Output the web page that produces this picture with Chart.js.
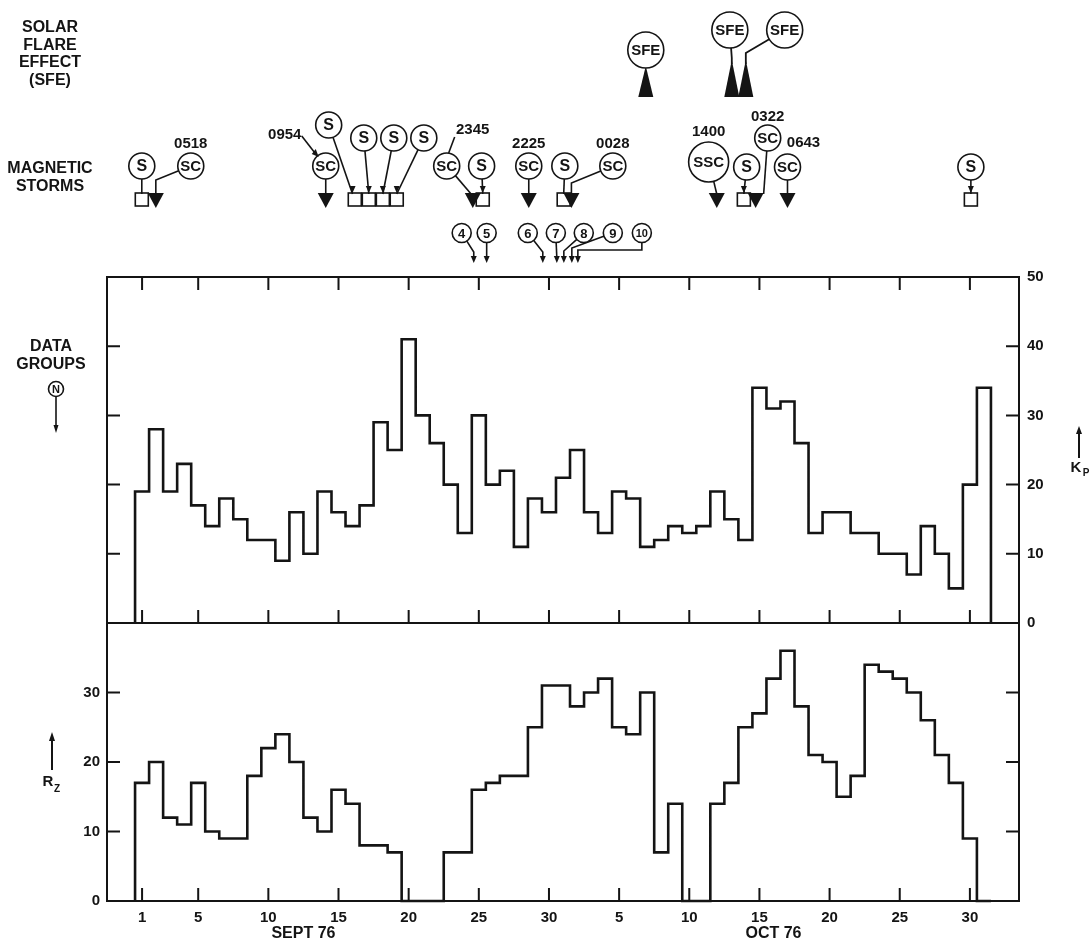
<!DOCTYPE html>
<html>
<head>
<meta charset="utf-8">
<title>Kp and Rz, Sept - Oct 76</title>
<script src="https://cdn.jsdelivr.net/npm/chart.js@4.4.1/dist/chart.umd.min.js"></script>
<style>
html, body { margin: 0; padding: 0; background: #fff; }
canvas { display: block; }
</style>
</head>
<body>
<canvas id="chart" width="1091" height="951"></canvas>
<script>
// day index: 1 = 1 Sept 76 ... 61 = 31 Oct 76
var DAYS = [];
for (var d = 1; d <= 61; d++) DAYS.push(d);

// daily sum Kp (top panel, right axis)
var KP = [19, 28, 19, 23, 17, 14, 18, 15, 12, 12, 9, 16, 10, 19, 16, 14, 17, 29, 25, 41,
          30, 26, 20, 13, 30, 20, 22, 11, 18, 16,
          21, 25, 16, 13, 19, 18, 11, 12, 14, 13, 14, 19, 15, 12, 34, 31, 32, 26, 13, 16,
          16, 13, 13, 10, 10, 7, 14, 10, 5, 20, 34];

// daily sunspot number Rz (bottom panel)
var RZ = [17, 20, 12, 11, 17, 10, 9, 9, 18, 22, 24, 20, 12, 10, 16, 14, 8, 8, 7, 0,
          0, 0, 7, 7, 16, 17, 18, 18, 25, 31,
          31, 28, 30, 32, 25, 24, 30, 7, 14, 0, 0, 14, 17, 25, 27, 32, 36, 28, 21, 20,
          15, 18, 34, 33, 32, 30, 26, 21, 17, 9, 0];

var X_TICK_DAYS = [1, 5, 10, 15, 20, 25, 30, 35, 40, 45, 50, 55, 60];
var X_TICK_LABELS = ["1", "5", "10", "15", "20", "25", "30", "5", "10", "15", "20", "25", "30"];
var KP_TICKS = [0, 10, 20, 30, 40, 50];
var RZ_TICKS = [0, 10, 20, 30];
var MONTH_LABELS = ["SEPT 76", "OCT 76"];
var MONTH_DAYS = [12.5, 46];

// magnetic storms: symbol, UT time, day of the symbol, day of its mark, mark kind
var STORM_LABELS = ["S", "SC", "SC", "S", "S", "S", "S", "SC", "S", "SC", "S", "SC", "SSC", "S", "SC", "SC", "S"];
var STORM_TIMES = ["", "0518", "0954", "", "", "", "", "2345", "", "2225", "", "0028", "1400", "", "0322", "0643", ""];
var STORM_DAYS = [0.98, 4.47, 14.09, 14.3, 16.8, 18.94, 21.08, 22.71, 25.2, 28.56, 31.13, 34.55, 41.38, 44.09, 45.59, 47.0, 60.07];
var STORM_MARK_DAYS = [0.98, 1.98, 14.09, 16.16, 17.16, 18.16, 19.15, 24.57, 25.28, 28.56, 31.05, 31.6, 41.96, 43.89, 44.73, 47.0, 60.07];
var STORM_HIT_DAYS = [0.98, 1.98, 14.09, 16.0, 17.16, 18.16, 19.15, 24.45, 25.28, 28.56, 31.05, 31.6, 41.96, 43.89, 45.3, 47.0, 60.07];
var STORM_KIND = ["sq", "tri", "tri", "sq", "sq", "sq", "sq", "tri", "sq", "tri", "sq", "tri", "tri", "sq", "tri", "tri", "sq"];

// solar flare effects
var SFE_DAYS = [36.9, 42.89, 46.8];
var SFE_MARK_DAYS = [36.9, 43.03, 44.03];

// data groups
var GROUP_LABELS = ["4", "5", "6", "7", "8", "9", "10"];
var GROUP_DAYS = [23.78, 25.56, 28.49, 30.49, 32.48, 34.55, 36.62];
var GROUP_MARK_DAYS = [24.64, 25.56, 29.56, 30.56, 31.06, 31.63, 32.06];

var INK = "#141414";
var FONT = '"Liberation Sans", Arial, sans-serif';

// the two panels share one chart area: Kp 0..50 on top, Rz 0..40 below
var KP_MAX = 50, RZ_MAX = 40, TOP_SHARE = 346 / 624;
var KP_MIN = -KP_MAX * (1 - TOP_SHARE) / TOP_SHARE;
var RZ_TOP = RZ_MAX / (1 - TOP_SHARE);

function steps(vals) {
  var pts = [{ x: DAYS[0] - 0.5, y: 0 }];
  for (var i = 0; i < vals.length; i++) pts.push({ x: DAYS[i] - 0.5, y: vals[i] });
  var end = DAYS[DAYS.length - 1] + 0.5;
  pts.push({ x: end, y: vals[vals.length - 1] });
  pts.push({ x: end, y: 0 });
  return pts;
}

function font(size) { return "bold " + size + "px " + FONT; }

function circleLabel(ctx, x, y, r, txt, size) {
  ctx.beginPath();
  ctx.arc(x, y, r, 0, Math.PI * 2);
  ctx.fillStyle = "#fff";
  ctx.fill();
  ctx.lineWidth = 1.6;
  ctx.strokeStyle = INK;
  ctx.stroke();
  ctx.fillStyle = INK;
  ctx.font = font(size);
  ctx.textAlign = "center";
  ctx.textBaseline = "middle";
  ctx.fillText(txt, x, y + 1);
}

function edge(cx, cy, r, tx, ty) {
  var dx = tx - cx, dy = ty - cy, L = Math.sqrt(dx * dx + dy * dy) || 1;
  return [cx + dx / L * r, cy + dy / L * r];
}

function poly(ctx, pts, lw) {
  ctx.beginPath();
  ctx.moveTo(pts[0][0], pts[0][1]);
  for (var i = 1; i < pts.length; i++) ctx.lineTo(pts[i][0], pts[i][1]);
  ctx.lineWidth = lw || 1.6;
  ctx.strokeStyle = INK;
  ctx.stroke();
}

function arrowDown(ctx, x, y, w, h) {
  ctx.beginPath();
  ctx.moveTo(x, y);
  ctx.lineTo(x - w / 2, y - h);
  ctx.lineTo(x + w / 2, y - h);
  ctx.closePath();
  ctx.fillStyle = INK;
  ctx.fill();
}

var frame = {
  id: "frame",
  beforeDraw: function (chart) {
    var ctx = chart.ctx;
    ctx.save();
    ctx.fillStyle = "#fff";
    ctx.fillRect(0, 0, chart.width, chart.height);
    ctx.restore();
  },
  afterDatasetsDraw: function (chart) {
    var ctx = chart.ctx, a = chart.chartArea;
    var sx = chart.scales.x, kp = chart.scales.kp, rz = chart.scales.rz;
    var mid = kp.getPixelForValue(0);
    var T = 13;
    ctx.save();
    ctx.strokeStyle = INK;
    ctx.lineWidth = 2;
    ctx.strokeRect(a.left, a.top, a.right - a.left, a.bottom - a.top);
    ctx.beginPath();
    ctx.moveTo(a.left, mid);
    ctx.lineTo(a.right, mid);
    ctx.stroke();
    ctx.beginPath();
    X_TICK_DAYS.forEach(function (d) {
      var x = sx.getPixelForValue(d);
      ctx.moveTo(x, a.top); ctx.lineTo(x, a.top + T);
      ctx.moveTo(x, mid); ctx.lineTo(x, mid - T);
      ctx.moveTo(x, a.bottom); ctx.lineTo(x, a.bottom - T);
    });
    KP_TICKS.forEach(function (v) {
      if (v <= 0 || v >= KP_MAX) return;
      var y = kp.getPixelForValue(v);
      ctx.moveTo(a.left, y); ctx.lineTo(a.left + T, y);
      ctx.moveTo(a.right, y); ctx.lineTo(a.right - T, y);
    });
    RZ_TICKS.forEach(function (v) {
      if (v <= 0) return;
      var y = rz.getPixelForValue(v);
      ctx.moveTo(a.left, y); ctx.lineTo(a.left + T, y);
      ctx.moveTo(a.right, y); ctx.lineTo(a.right - T, y);
    });
    ctx.stroke();
    ctx.restore();
  },
  afterDraw: function (chart) {
    var ctx = chart.ctx, sx = chart.scales.x;
    function X(d) { return sx.getPixelForValue(d); }
    ctx.save();
    ctx.fillStyle = INK;
    ctx.strokeStyle = INK;
    ctx.textAlign = "center";
    ctx.textBaseline = "middle";

    // month names under the day ticks
    ctx.font = font(16);
    MONTH_LABELS.forEach(function (t, i) { ctx.fillText(t, X(MONTH_DAYS[i]), 934); });

    // row titles
    ctx.font = font(16);
    ["SOLAR", "FLARE", "EFFECT", "(SFE)"].forEach(function (t, i) { ctx.fillText(t, 50, 28 + i * 17.5); });
    ["MAGNETIC", "STORMS"].forEach(function (t, i) { ctx.fillText(t, 50, 169 + i * 18); });
    ["DATA", "GROUPS"].forEach(function (t, i) { ctx.fillText(t, 51, 347 + i * 17.5); });
    circleLabel(ctx, 56, 389, 7.5, "N", 11);
    poly(ctx, [[56, 397], [56, 426]], 1.6);
    arrowDown(ctx, 56, 433, 5, 8);

    // Rz and Kp axis titles with arrows
    poly(ctx, [[52, 770], [52, 740]], 2);
    ctx.beginPath(); ctx.moveTo(52, 732); ctx.lineTo(49, 741); ctx.lineTo(55, 741); ctx.closePath(); ctx.fill();
    ctx.font = font(15);
    ctx.fillText("R", 48, 782);
    ctx.font = font(10);
    ctx.fillText("Z", 57, 789);
    poly(ctx, [[1079, 458], [1079, 433]], 2);
    ctx.beginPath(); ctx.moveTo(1079, 426); ctx.lineTo(1076, 434); ctx.lineTo(1082, 434); ctx.closePath(); ctx.fill();
    ctx.font = font(15);
    ctx.fillText("K", 1076, 468);
    ctx.font = font(10);
    ctx.fillText("P", 1086, 473);

    // magnetic storm marks
    var MARK_TOP = 193;
    var rows = [166, 166, 166, 125, 138, 138, 138, 166, 166, 166, 166, 166, 162, 167, 138, 167, 167];
    var radii = [13, 13, 13, 13, 13, 13, 13, 13, 13, 13, 13, 13, 20, 13, 13, 13, 13];
    var bends = { 1: 180, 11: 183 };
    var arrows = { 3: 1, 4: 1, 5: 1, 6: 1, 8: 1, 13: 1, 16: 1 };
    STORM_LABELS.forEach(function (t, i) {
      var cx = X(STORM_DAYS[i]), cy = rows[i], r = radii[i];
      var hx = X(STORM_HIT_DAYS[i]);
      var pts;
      if (bends[i]) {
        pts = [edge(cx, cy, r, hx, bends[i]), [hx, bends[i]], [hx, MARK_TOP + 1]];
      } else {
        pts = [edge(cx, cy, r, hx, MARK_TOP), [hx, MARK_TOP + 1]];
      }
      poly(ctx, pts, 1.6);
      if (arrows[i]) arrowDown(ctx, hx, MARK_TOP, 6, 7);
      var mx = X(STORM_MARK_DAYS[i]);
      if (STORM_KIND[i] === "sq") {
        ctx.lineWidth = 1.6;
        ctx.strokeRect(mx - 6.5, MARK_TOP, 13, 13);
      } else {
        ctx.beginPath();
        ctx.moveTo(mx - 8, MARK_TOP);
        ctx.lineTo(mx + 8, MARK_TOP);
        ctx.lineTo(mx, MARK_TOP + 15);
        ctx.closePath();
        ctx.fill();
      }
    });
    STORM_LABELS.forEach(function (t, i) {
      circleLabel(ctx, X(STORM_DAYS[i]), rows[i], radii[i], t, t === "S" ? 16 : 15);
    });
    // time labels
    var lab = { 1: [0, -22], 2: [-41, -31], 7: [26, -36], 9: [0, -22], 11: [0, -22], 12: [0, -30], 14: [0, -21], 15: [16, -24] };
    ctx.font = font(15);
    ctx.fillStyle = INK;
    ctx.textAlign = "center";
    ctx.textBaseline = "middle";
    STORM_TIMES.forEach(function (t, i) {
      if (!t) return;
      var cx = X(STORM_DAYS[i]), cy = rows[i];
      ctx.fillText(t, cx + lab[i][0], cy + lab[i][1]);
    });
    // leader lines from the 0954 and 2345 labels
    var c2 = X(STORM_DAYS[2]);
    poly(ctx, [[c2 - 24, 136], [c2 - 10, 154]], 1.6);
    ctx.beginPath(); ctx.moveTo(c2 - 7, 157); ctx.lineTo(c2 - 14, 154); ctx.lineTo(c2 - 10, 149); ctx.closePath(); ctx.fill();
    var c7 = X(STORM_DAYS[7]);
    poly(ctx, [[c7 + 8, 137], [c7 + 2, 153]], 1.6);

    // solar flare effects
    var sfeRows = [50, 30, 30];
    SFE_DAYS.forEach(function (d, i) {
      var cx = X(d), cy = sfeRows[i], mx = X(SFE_MARK_DAYS[i]);
      if (i > 0) {
        var bendY = i === 2 ? 53 : 58;
        poly(ctx, [edge(cx, cy, 18, mx, bendY), [mx, bendY], [mx, 64]], 1.8);
      }
      ctx.beginPath();
      ctx.moveTo(mx, i === 0 ? 66 : 60);
      ctx.lineTo(mx - 7.5, 97);
      ctx.lineTo(mx + 7.5, 97);
      ctx.closePath();
      ctx.fillStyle = INK;
      ctx.fill();
    });
    SFE_DAYS.forEach(function (d, i) { circleLabel(ctx, X(d), sfeRows[i], 18, "SFE", 15); });

    // data group arrows
    var TIP = 263;
    var gBends = [252, null, 252, null, 251, 248, 250];
    GROUP_LABELS.forEach(function (t, i) {
      var cx = X(GROUP_DAYS[i]), cy = 233, tx = X(GROUP_MARK_DAYS[i]);
      var pts;
      if (i === 6) pts = [[cx, cy + 9], [cx, 250], [tx, 250], [tx, TIP - 5]];
      else if (gBends[i] === null) pts = [edge(cx, cy, 9, tx, TIP), [tx, TIP - 5]];
      else pts = [edge(cx, cy, 9, tx, gBends[i]), [tx, gBends[i]], [tx, TIP - 5]];
      poly(ctx, pts, 1.6);
      arrowDown(ctx, tx, TIP, 6, 7);
    });
    GROUP_LABELS.forEach(function (t, i) {
      circleLabel(ctx, X(GROUP_DAYS[i]), 233, 9.5, t, t.length > 1 ? 11 : 13);
    });
    ctx.restore();
  }
};

var tickFont = { family: FONT, size: 15, weight: "bold" };

new Chart(document.getElementById("chart"), {
  type: "line",
  data: {
    datasets: [
      { label: "Kp", data: steps(KP), yAxisID: "kp", xAxisID: "x", stepped: "before",
        borderColor: INK, borderWidth: 2.6, pointRadius: 0, fill: false, clip: 8 },
      { label: "Rz", data: steps(RZ), yAxisID: "rz", xAxisID: "x", stepped: "before",
        borderColor: INK, borderWidth: 2.6, pointRadius: 0, fill: false, clip: 8 }
    ]
  },
  options: {
    responsive: false,
    animation: false,
    devicePixelRatio: 1,
    layout: { padding: { top: 277, left: 0, right: 0, bottom: 0 } },
    plugins: { legend: { display: false }, tooltip: { enabled: false } },
    scales: {
      x: {
        type: "linear", position: "bottom", min: -1.5, max: 63.5,
        grid: { display: false, drawTicks: false }, border: { display: false },
        ticks: { autoSkip: false, maxRotation: 0, padding: 8, color: INK, font: tickFont,
                 callback: function (v, i) { return X_TICK_LABELS[i]; } },
        afterBuildTicks: function (a) { a.ticks = X_TICK_DAYS.map(function (d) { return { value: d }; }); },
        afterFit: function (a) { a.height = 50; }
      },
      rz: {
        type: "linear", position: "left", min: 0, max: RZ_TOP,
        grid: { display: false, drawTicks: false }, border: { display: false },
        ticks: { padding: 7, color: INK, font: tickFont, callback: function (v) { return String(v); } },
        afterBuildTicks: function (a) { a.ticks = RZ_TICKS.map(function (v) { return { value: v }; }); },
        afterFit: function (a) { a.width = 107; }
      },
      kp: {
        type: "linear", position: "right", min: KP_MIN, max: KP_MAX,
        grid: { display: false, drawTicks: false }, border: { display: false },
        ticks: { padding: 8, color: INK, font: tickFont, callback: function (v) { return String(v); } },
        afterBuildTicks: function (a) { a.ticks = KP_TICKS.map(function (v) { return { value: v }; }); },
        afterFit: function (a) { a.width = 72; }
      }
    }
  },
  plugins: [frame]
});
</script>
</body>
</html>
